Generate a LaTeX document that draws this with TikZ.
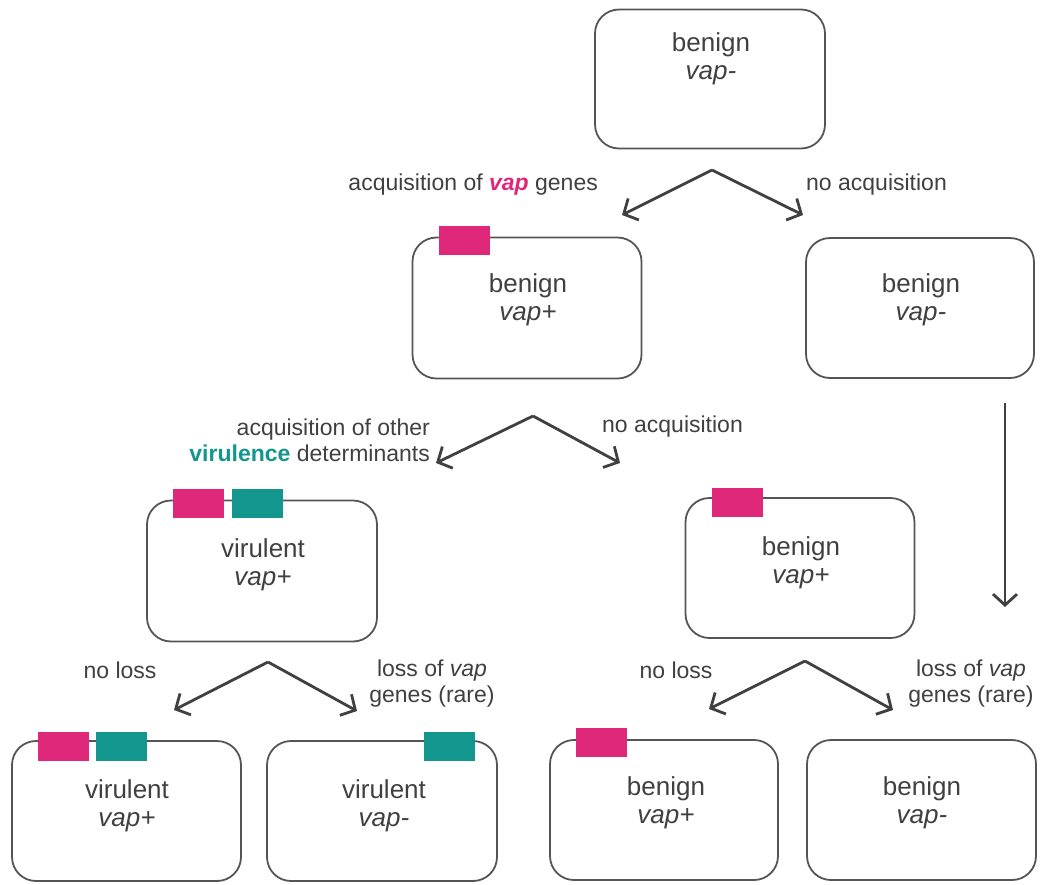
\documentclass[tikz,border=0pt]{standalone}
\usepackage{fontspec}
\setmainfont{Liberation Sans}
\usetikzlibrary{arrows.meta}
\definecolor{txt}{HTML}{404040}
\definecolor{edge}{HTML}{555555}
\definecolor{vappink}{HTML}{E0287A}
\definecolor{virteal}{HTML}{12968D}
\begin{document}
\begin{tikzpicture}[x=1pt,y=-1pt,
  cell/.style={draw=edge,line width=1.8pt,rounded corners=24pt,rectangle,inner sep=0pt},
  celltext/.style={text=txt,font=\fontsize{26}{28}\selectfont,align=center,inner sep=0pt},
  lab/.style={text=txt,font=\fontsize{23}{26}\selectfont,inner sep=0pt},
  genep/.style={fill=vappink,draw=none,minimum width=51pt,minimum height=29pt,inner sep=0pt},
  genet/.style={fill=virteal,draw=none,minimum width=51pt,minimum height=29pt,inner sep=0pt},
  arr/.style={draw=txt,line width=2.8pt,-{Straight Barb[length=11pt,width=24pt,line width=2.8pt]}}]
\useasboundingbox (0,0) rectangle (1041,884);
% boxes
\node[cell,minimum width=230pt,minimum height=139pt] (top) at (710,79) {};
\node[cell,minimum width=229pt,minimum height=141pt] (r2l) at (527,308) {};
\node[cell,minimum width=228pt,minimum height=140pt] (r2r) at (920,308) {};
\node[cell,minimum width=230pt,minimum height=141pt] (r3l) at (262,571) {};
\node[cell,minimum width=229pt,minimum height=140pt] (r3r) at (800,568) {};
\node[cell,minimum width=229pt,minimum height=140pt] (b1) at (126.5,811) {};
\node[cell,minimum width=230pt,minimum height=140pt] (b2) at (382,811) {};
\node[cell,minimum width=228pt,minimum height=140pt] (b3) at (664,810) {};
\node[cell,minimum width=229pt,minimum height=140pt] (b4) at (921.5,810) {};
% texts
\node[celltext] (ttop) at (711,59) {benign\\\textit{vap-}};
\node[celltext] (tr2l) at (528,300) {benign\\\textit{vap+}};
\node[celltext] (tr2r) at (921,300) {benign\\\textit{vap-}};
\node[celltext] (tr3l) at (263,565) {virulent\\\textit{vap+}};
\node[celltext] (tr3r) at (801,563) {benign\\\textit{vap+}};
\node[celltext] (tb1) at (127,806) {virulent\\\textit{vap+}};
\node[celltext] (tb2) at (384,806) {virulent\\\textit{vap-}};
\node[celltext] (tb3) at (666,803) {benign\\\textit{vap+}};
\node[celltext] (tb4) at (922,803) {benign\\\textit{vap-}};
% genes
\node[genep] (g2) at (464.5,240.5) {};
\node[genep] (g3a) at (198.5,503) {};
\node[genet] (g3b) at (257,503) {};
\node[genep] (g3r) at (737.5,502) {};
\node[genep] (g4a) at (63.5,746.5) {};
\node[genet] (g4b) at (121.5,746.5) {};
\node[genet] (g4c) at (449,746.5) {};
\node[genep] (g4d) at (601.5,742.5) {};
% labels
\node[lab,anchor=east] (l1) at (598,185) {acquisition of \textcolor{vappink}{\textbf{\textit{vap}}} genes};
\node[lab,anchor=west] (l2) at (806,185) {no acquisition};
\node[lab,anchor=east,align=right] (l3) at (430,440) {acquisition of other\\\textcolor{virteal}{\textbf{virulence}} determinants};
\node[lab,anchor=west] (l4) at (602,427) {no acquisition};
\node[lab] (l5) at (120,670) {no loss};
\node[lab,align=center] (l6) at (432,684) {loss of \textit{vap}\\genes (rare)};
\node[lab] (l7) at (676,670) {no loss};
\node[lab,align=center] (l8) at (971,684) {loss of \textit{vap}\\genes (rare)};
% arrow coordinates
\coordinate (a1) at (712,170);
\coordinate (a1l) at (622,215);
\coordinate (a1r) at (803,215);
\coordinate (a2) at (533,416);
\coordinate (a2l) at (436,463);
\coordinate (a2r) at (620,463);
\coordinate (a3) at (268,662);
\coordinate (a3l) at (174,710);
\coordinate (a3r) at (357,711);
\coordinate (a4) at (805,661);
\coordinate (a4l) at (709,709);
\coordinate (a4r) at (893,710);
\coordinate (v1) at (1005,403);
\coordinate (v2) at (1005,607);
\draw[arr,line join=miter] (a1) -- (a1l);
\draw[arr] (a1) -- (a1r);
\draw[arr] (a2) -- (a2l);
\draw[arr] (a2) -- (a2r);
\draw[arr] (a3) -- (a3l);
\draw[arr] (a3) -- (a3r);
\draw[arr] (a4) -- (a4l);
\draw[arr] (a4) -- (a4r);
\draw[arr] (v1) -- (v2);
\end{tikzpicture}
\end{document}
